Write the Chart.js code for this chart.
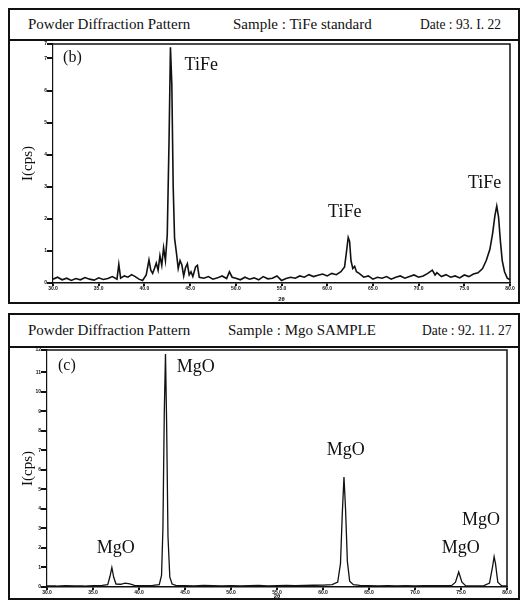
<!DOCTYPE html>
<html>
<head>
<meta charset="utf-8">
<script src="https://cdn.jsdelivr.net/npm/chart.js@4.4.0/dist/chart.umd.min.js"></script>
<style>
  html, body { margin: 0; padding: 0; background: #fff; }
  body { width: 521px; height: 603px; position: relative; overflow: hidden; font-family: 'Liberation Serif', 'DejaVu Serif', serif; color: #111; }
  .box { position: absolute; border: 2px solid #111; box-sizing: border-box; }
  .head { position: absolute; left: 0; right: 0; top: 0; border-bottom: 2px solid #111; }
  .head span { position: absolute; font-size: 15px; white-space: nowrap; transform-origin: left top; }
  .head .date { transform: scaleX(0.9); }
  canvas { position: absolute; }
</style>
</head>
<body>

<div class="box" style="left:8px; top:8px; width:512px; height:296px;">
  <div class="head" style="height:29px;">
    <span style="left:18px; top:6px;">Powder Diffraction Pattern</span>
    <span style="left:223px; top:6px;">Sample : TiFe standard</span>
    <span class="date" style="left:410px; top:6px;">Date : 93. I. 22</span>
  </div>
</div>
<div class="box" style="left:8px; top:313px; width:512px; height:287px;">
  <div class="head" style="height:31px;">
    <span style="left:18px; top:7px;">Powder Diffraction Pattern</span>
    <span style="left:218px; top:7px;">Sample : Mgo SAMPLE</span>
    <span class="date" style="left:412px; top:7px;">Date : 92. 11. 27</span>
  </div>
</div>

<div style="position:absolute; left:10px; top:40px; width:508px; height:263px;"><canvas id="tifeChart"></canvas></div>
<div style="position:absolute; left:10px; top:347px; width:508px; height:253px;"><canvas id="mgoChart"></canvas></div>

<script>
// 2-theta axis (deg), shared by both patterns
const angleTicks = [30, 35, 40, 45, 50, 55, 60, 65, 70, 75, 80];

// (b) TiFe standard
const tifeAngle = [
  30.0, 30.5, 31.0, 31.5, 32.0, 32.5, 33.0, 33.5, 34.0, 34.5, 35.0, 35.5, 36.0, 36.5, 37.0, 37.2, 37.4,
  37.8, 38.2, 38.6, 39.0, 39.4, 39.8, 40.2, 40.5, 40.7, 40.9, 41.1, 41.3, 41.5, 41.7, 41.9, 42.1, 42.3,
  42.5, 42.7, 42.85, 43.0, 43.15, 43.3, 43.5, 43.7, 43.9, 44.1, 44.3, 44.5, 44.7, 44.9, 45.1, 45.3, 45.6,
  45.8, 46.0, 46.5, 47.0, 47.5, 48.0, 48.5, 49.0, 49.3, 49.6, 50.0, 50.5, 51.0, 51.5, 52.0, 52.5, 53.0,
  53.5, 54.0, 54.5, 55.0, 55.5, 56.0, 56.5, 57.0, 57.5, 58.0, 58.5, 59.0, 59.5, 60.0, 60.5, 61.0, 61.5,
  61.9, 62.1, 62.3, 62.45, 62.6, 62.8, 63.0, 63.2, 63.5, 64.0, 64.5, 65.0, 65.5, 66.0, 66.5, 67.0, 67.5,
  68.0, 68.5, 69.0, 69.5, 70.0, 70.5, 71.0, 71.5, 71.8, 72.0, 72.5, 73.0, 73.5, 74.0, 74.5, 75.0, 75.5,
  76.0, 76.5, 77.0, 77.4, 77.8, 78.1, 78.35, 78.55, 78.75, 78.95, 79.15, 79.4, 79.7, 80.0
];
const tifeCounts = [
  0.12, 0.18, 0.10, 0.15, 0.08, 0.14, 0.10, 0.17, 0.12, 0.09, 0.16, 0.11, 0.14, 0.20, 0.12, 0.58, 0.15,
  0.22, 0.18, 0.26, 0.20, 0.12, 0.08, 0.25, 0.72, 0.40, 0.30, 0.45, 0.62, 0.40, 0.85, 0.55, 1.10, 0.70,
  1.50, 4.50, 7.35, 6.20, 3.00, 1.40, 0.95, 0.45, 0.70, 0.56, 0.22, 0.48, 0.60, 0.25, 0.35, 0.20, 0.50,
  0.55, 0.18, 0.15, 0.20, 0.12, 0.16, 0.22, 0.14, 0.35, 0.18, 0.15, 0.10, 0.18, 0.12, 0.16, 0.10, 0.20,
  0.13, 0.15, 0.22, 0.08, 0.14, 0.18, 0.15, 0.22, 0.18, 0.26, 0.20, 0.24, 0.28, 0.22, 0.30, 0.26, 0.35,
  0.50, 0.95, 1.42, 1.30, 0.70, 0.45, 0.52, 0.35, 0.30, 0.18, 0.22, 0.12, 0.18, 0.15, 0.20, 0.12, 0.18,
  0.22, 0.15, 0.20, 0.25, 0.18, 0.22, 0.30, 0.40, 0.25, 0.32, 0.20, 0.26, 0.18, 0.22, 0.16, 0.25, 0.20,
  0.28, 0.32, 0.45, 0.70, 1.05, 1.55, 2.10, 2.40, 2.05, 1.30, 0.70, 0.35, 0.15, 0.10
];
const tifeLabelText  = ['(b)', 'TiFe', 'TiFe', 'TiFe'];
const tifeLabelAngle = [31.1, 44.4, 60.1, 75.4];
const tifeLabelCount = [6.9, 6.65, 2.06, 2.97];

// (c) MgO sample
const mgoAngle = [
  30.0, 31.0, 32.0, 33.0, 34.0, 35.0, 36.0, 36.6, 36.85, 37.05, 37.25, 37.5, 38.0, 38.5, 39.0, 39.5,
  40.5, 41.5, 42.2, 42.45, 42.6, 42.75, 42.88, 43.0, 43.15, 43.35, 43.6, 44.0, 45.0, 46.0, 47.0, 48.0,
  49.0, 50.0, 51.0, 52.0, 53.0, 54.0, 55.0, 56.0, 57.0, 58.0, 59.0, 60.0, 61.0, 61.6, 61.9, 62.1,
  62.28, 62.45, 62.65, 62.9, 63.3, 64.0, 65.0, 66.0, 67.0, 68.0, 69.0, 70.0, 71.0, 72.0, 73.0, 74.0,
  74.4, 74.75, 75.1, 75.5, 76.5, 77.5, 78.1, 78.45, 78.6, 78.75, 79.0, 79.4, 80.0
];
const mgoCounts = [
  0.06, 0.05, 0.07, 0.06, 0.05, 0.07, 0.08, 0.12, 0.55, 1.00, 0.50, 0.15, 0.14, 0.20, 0.16, 0.08,
  0.07, 0.08, 0.12, 0.60, 3.00, 9.00, 11.95, 8.50, 2.60, 0.50, 0.15, 0.08, 0.07, 0.06, 0.08, 0.07,
  0.06, 0.07, 0.06, 0.07, 0.08, 0.06, 0.07, 0.08, 0.07, 0.08, 0.09, 0.10, 0.12, 0.25, 1.20, 3.80,
  5.64, 4.00, 1.30, 0.30, 0.12, 0.08, 0.07, 0.06, 0.07, 0.06, 0.07, 0.06, 0.07, 0.07, 0.07, 0.08,
  0.25, 0.77, 0.25, 0.07, 0.06, 0.07, 0.20, 1.10, 1.55, 1.20, 0.25, 0.07, 0.06
];
const mgoLabelText  = ['(c)', 'MgO', 'MgO', 'MgO', 'MgO', 'MgO'];
const mgoLabelAngle = [31.2, 44.1, 35.4, 60.4, 72.9, 75.1];
const mgoLabelCount = [11.13, 11.03, 1.74, 6.77, 1.74, 3.18];

const ink = '#111111';
const serif = "'Liberation Serif', 'DejaVu Serif', serif";

const peakLabels = {
  id: 'peakLabels',
  afterDatasetsDraw(chart, args, opts) {
    const { ctx, scales: { x, y } } = chart;
    ctx.save();
    ctx.fillStyle = ink;
    ctx.textBaseline = 'alphabetic';
    ctx.textAlign = 'left';
    opts.text.forEach((t, i) => {
      ctx.font = (t.startsWith('(') ? '16px ' : '18px ') + serif;
      ctx.fillText(t, x.getPixelForValue(opts.angle[i]), y.getPixelForValue(opts.count[i]));
    });
    ctx.restore();
  }
};

// top and right edge of the plot frame
const frame = {
  id: 'frame',
  afterDraw(chart) {
    const { ctx, chartArea: a } = chart;
    ctx.save();
    ctx.strokeStyle = ink;
    ctx.lineWidth = 1.5;
    ctx.beginPath();
    ctx.moveTo(a.left, a.top);
    ctx.lineTo(a.right, a.top);
    ctx.lineTo(a.right, a.bottom);
    ctx.stroke();
    ctx.restore();
  }
};

function makePattern(id, angle, counts, yMax, yStep, pad, yWidth, xHeight, labels, lineWidth) {
  const ctx = document.getElementById(id).getContext('2d');
  return new Chart(ctx, {
    type: 'line',
    data: {
      datasets: [{
        data: angle.map((a, i) => ({ x: a, y: counts[i] })),
        borderColor: ink,
        borderWidth: lineWidth,
        pointRadius: 0,
        tension: 0,
        fill: false
      }]
    },
    options: {
      responsive: true,
      maintainAspectRatio: false,
      animation: false,
      layout: { padding: pad },
      plugins: {
        legend: { display: false },
        tooltip: { enabled: false },
        peakLabels: labels
      },
      scales: {
        x: {
          type: 'linear',
          min: 30,
          max: 80,
          afterBuildTicks: s => { s.ticks = angleTicks.map(v => ({ value: v })); },
          afterFit: s => { s.height = xHeight; },
          border: { color: ink, width: 1.5 },
          grid: { drawOnChartArea: false, color: ink, tickLength: 3, lineWidth: 2 },
          ticks: {
            color: ink,
            padding: 0,
            maxRotation: 0,
            font: { size: 5, weight: 'bold' },
            callback: v => v.toFixed(1)
          },
          title: {
            display: true,
            text: '2θ',
            color: ink,
            padding: 0,
            font: { size: 6, weight: 'bold' }
          }
        },
        y: {
          min: 0,
          max: yMax,
          afterFit: s => { s.width = yWidth; },
          border: { color: ink, width: 1.2, dash: [4, 2] },
          grid: { drawOnChartArea: false, color: ink, tickLength: 6, lineWidth: 2 },
          ticks: {
            stepSize: yStep,
            color: ink,
            padding: 0,
            font: { size: 5, weight: 'bold' },
            callback: v => v.toFixed(0)
          },
          title: {
            display: true,
            text: 'I(cps)',
            color: ink,
            padding: { top: 9, bottom: 0 },
            font: { size: 15, family: serif }
          }
        }
      }
    },
    plugins: [peakLabels, frame]
  });
}

window.addEventListener('DOMContentLoaded', () => {
  makePattern('tifeChart', tifeAngle, tifeCounts, 7.45, 1,
    { left: 0, right: 8, top: 4, bottom: 0 }, 43, 20,
    { text: tifeLabelText, angle: tifeLabelAngle, count: tifeLabelCount }, 1.6);
  makePattern('mgoChart', mgoAngle, mgoCounts, 12.15, 1,
    { left: 0, right: 11, top: 3, bottom: 0 }, 37, 13,
    { text: mgoLabelText, angle: mgoLabelAngle, count: mgoLabelCount }, 1.3);
});
</script>
</body>
</html>
